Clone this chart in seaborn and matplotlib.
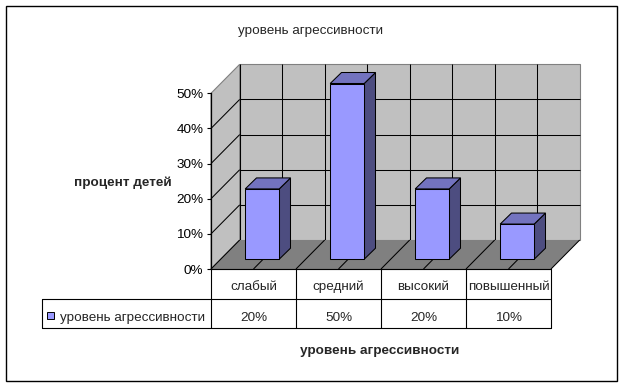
import matplotlib
matplotlib.use("Agg")
import matplotlib.pyplot as plt
import matplotlib.transforms as mtransforms
from matplotlib.patches import Polygon, Rectangle
from matplotlib.lines import Line2D
import seaborn as sns
import pandas as pd

# ---- data ----
categories = ["слабый", "средний", "высокий", "повышенный"]
values = [0.20, 0.50, 0.20, 0.10]
value_labels = ["20%", "50%", "20%", "10%"]
series_name = "уровень агрессивности"
title_text = "уровень агрессивности"
ylabel_text = "процент детей"
xlabel_text = "уровень агрессивности"
yticks = [0.0, 0.1, 0.2, 0.3, 0.4, 0.5]

sns.set_style("white")
plt.rcParams['font.family'] = ['Liberation Sans', 'DejaVu Sans']

FS = 9.7
FSB = 9.7

W, H = 624, 388
fig = plt.figure(figsize=(W / 100, H / 100), dpi=100)
fig.patch.set_facecolor("white")

# front plane of the 3-D box (pixel geometry, y measured from top)
front_left, front_right = 211, 551
y0_px, y50_px = 269, 93.3
ax = fig.add_axes([front_left / W, (H - y0_px) / H,
                   (front_right - front_left) / W, (y0_px - y50_px) / H])
ax.patch.set_visible(False)

FRONT = "#9999FF"
TOP = "#7373BF"
SIDE = "#4D4D80"
WALL = "#C0C0C0"
FLOOR = "#808080"

df = pd.DataFrame({"cat": categories, "val": values})
sns.barplot(data=df, x="cat", y="val", color=FRONT, saturation=1, width=0.4,
            edgecolor="black", linewidth=0.75, ax=ax, zorder=3)
ax.set_xlim(-0.5, len(categories) - 0.5)
ax.set_ylim(0, 0.5)

# axis styling
for s in ["top", "right", "bottom"]:
    ax.spines[s].set_visible(False)
ax.spines["left"].set_color("black")
ax.spines["left"].set_linewidth(0.9)
ax.spines["left"].set_zorder(5)
ax.set_xticks([])
ax.set_yticks(yticks)
ax.set_yticklabels([f"{v:.0%}" for v in yticks], fontsize=FS)
ax.tick_params(axis="y", direction="out", length=3, width=0.8, pad=2.5,
               left=True, colors="black")
ax.set_xlabel("")
ax.set_ylabel("")

ID = mtransforms.IdentityTransform()
DEPTH = (28.7, 29.0)      # box depth in pixels
BAR_OFF = (8.7, 9.8)      # bar front offset
BAR_D = (11.3, 11.0)      # bar depth


def P(x, y, d=(0, 0)):
    px, py = ax.transData.transform((x, y))
    return (px + d[0], py + d[1])


def poly(pts, fc, ec="none", lw=0.0, z=1):
    p = Polygon(pts, closed=True, facecolor=fc, edgecolor=ec, linewidth=lw,
                transform=ID, clip_on=False, zorder=z)
    ax.add_artist(p)


def line(p1, p2, c="black", lw=0.75, z=1.5):
    l = Line2D([p1[0], p2[0]], [p1[1], p2[1]], color=c, linewidth=lw,
               transform=ID, clip_on=False, zorder=z, solid_capstyle="butt")
    ax.add_artist(l)


xl, xr = -0.5, len(categories) - 0.5
yt = 0.5
# back wall
poly([P(xl, 0, DEPTH), P(xr, 0, DEPTH), P(xr, yt, DEPTH), P(xl, yt, DEPTH)],
     WALL, ec="#808080", lw=0.8, z=0.5)
# left wall
poly([P(xl, 0), P(xl, 0, DEPTH), P(xl, yt, DEPTH), P(xl, yt)],
     WALL, ec="#808080", lw=0.8, z=0.5)
# gridlines
for v in yticks[1:-1]:
    line(P(xl, v), P(xl, v, DEPTH), z=0.7)
    line(P(xl, v, DEPTH), P(xr, v, DEPTH), z=0.7)
halfs = [xl + 0.5 * i for i in range(2 * len(categories) + 1)]
for hx in halfs[:-1]:
    line(P(hx, 0, DEPTH), P(hx, yt, DEPTH), z=0.7)
# floor
poly([P(xl, 0), P(xr, 0), P(xr, 0, DEPTH), P(xl, 0, DEPTH)],
     FLOOR, ec="none", z=0.8)
for hx in halfs:
    line(P(hx, 0), P(hx, 0, DEPTH), z=0.9)
line(P(xl, 0), P(xr, 0), z=0.9)

# 3-D bars: shift front faces and add side / top faces
off = mtransforms.ScaledTranslation(BAR_OFF[0] / 100, BAR_OFF[1] / 100,
                                    fig.dpi_scale_trans)
for p in ax.patches:
    if not isinstance(p, Rectangle):
        continue
    x0, w, h = p.get_x(), p.get_width(), p.get_height()
    p.set_transform(ax.transData + off)
    p.set_clip_on(False)
    bl = P(x0, 0, BAR_OFF)
    br = P(x0 + w, 0, BAR_OFF)
    tl = P(x0, h, BAR_OFF)
    tr = P(x0 + w, h, BAR_OFF)
    d = BAR_D
    poly([br, tr, (tr[0] + d[0], tr[1] + d[1]), (br[0] + d[0], br[1] + d[1])],
         SIDE, ec="black", lw=0.75, z=2.9)
    poly([tl, tr, (tr[0] + d[0], tr[1] + d[1]), (tl[0] + d[0], tl[1] + d[1])],
         TOP, ec="black", lw=0.75, z=2.9)

# ---- data table ----
row1_bot = 299.3
row2_bot = 328.0
leg_left = 42.3


def fy(ypix):
    return H - ypix


tbl_kw = dict(color="black", linewidth=0.8, transform=ID, clip_on=False, zorder=5)
top_y = P(xl, 0)[1]
edges_x = [P(xl + i, 0)[0] for i in range(len(categories) + 1)]
ax.add_artist(Line2D([edges_x[0], edges_x[-1]], [top_y, top_y], **tbl_kw))
ax.add_artist(Line2D([leg_left, edges_x[-1]], [fy(row1_bot)] * 2, **tbl_kw))
ax.add_artist(Line2D([leg_left, edges_x[-1]], [fy(row2_bot)] * 2, **tbl_kw))
ax.add_artist(Line2D([leg_left, leg_left], [fy(row1_bot), fy(row2_bot)], **tbl_kw))
for ex in edges_x:
    ax.add_artist(Line2D([ex, ex], [top_y, fy(row2_bot)], **tbl_kw))

r1b = fy(290.3)
r2b = fy(321.3)
for i, (c, lab) in enumerate(zip(categories, value_labels)):
    cx = (edges_x[i] + edges_x[i + 1]) / 2
    fig.text(cx / W, r1b / H, c, ha="center", va="baseline", fontsize=FS)
    fig.text(cx / W, r2b / H, lab, ha="center", va="baseline", fontsize=FS)

# legend key in table
ax.add_artist(Rectangle((47.3, fy(319.3)), 6.7, 7.6, facecolor=FRONT,
                        edgecolor="black", linewidth=0.7, transform=ID,
                        clip_on=False, zorder=5))
fig.text(59.5 / W, r2b / H, series_name, ha="left", va="baseline", fontsize=FS)

# titles
fig.text(311 / W, fy(34) / H, title_text, ha="center", va="baseline", fontsize=FS)
fig.text(123 / W, fy(186) / H, ylabel_text, ha="center", va="baseline",
         fontsize=FSB, fontweight="bold")
fig.text(380 / W, fy(354) / H, xlabel_text, ha="center", va="baseline",
         fontsize=FSB, fontweight="bold")

# outer border
fig.add_artist(Rectangle((5.5 / W, fy(381) / H), (616.5 - 5.5) / W, (381 - 6) / H,
                         transform=fig.transFigure, fill=False,
                         edgecolor="black", linewidth=1.0))

fig.savefig("out.png", dpi=100, facecolor="white")
